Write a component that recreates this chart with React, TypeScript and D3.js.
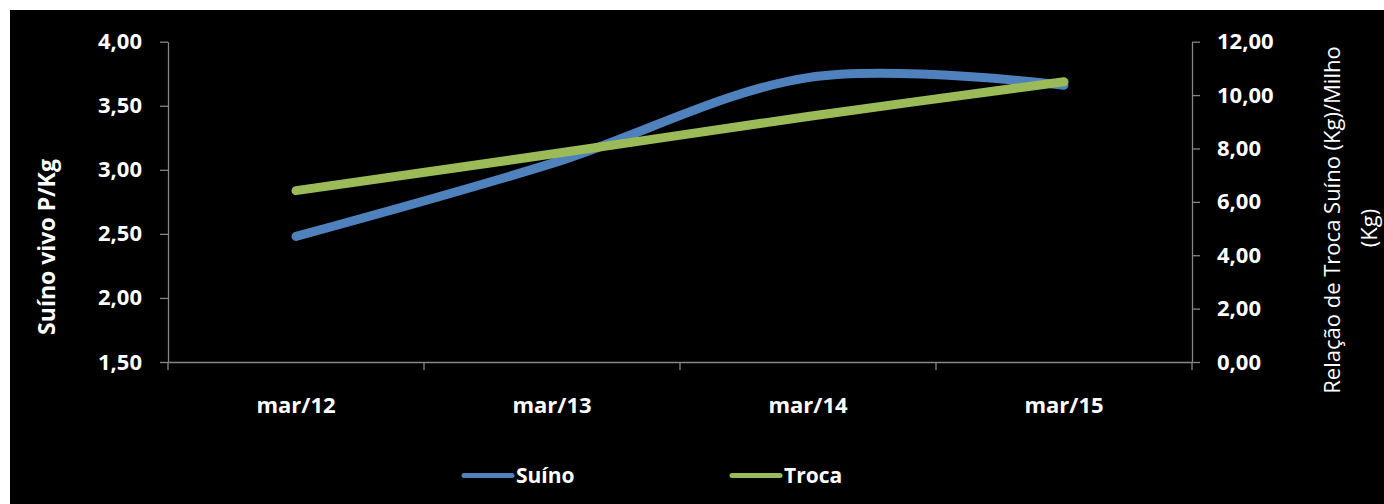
import React, { useEffect, useRef } from 'react';
import * as d3 from 'd3';

const categories = ['mar/12', 'mar/13', 'mar/14', 'mar/15'];
const suinoValues = [2.48, 3.05, 3.72, 3.66];
const trocaValues = [6.42, 7.79, 9.2, 10.5];
const leftTicks = [1.5, 2.0, 2.5, 3.0, 3.5, 4.0];
const rightTicks = [0, 2, 4, 6, 8, 10, 12];

const seriesNames = ['Suíno', 'Troca'];
const seriesColors = ['#4F81BD', '#9BBB59'];

const App: React.FC = () => {
    const chartRef = useRef<SVGSVGElement>(null);

    useEffect(() => {
        if (!chartRef.current) return;
        d3.select(chartRef.current).selectAll('*').remove();

        const width = 1384;
        const height = 504;
        const plot = { left: 168, right: 1192, top: 41.7, bottom: 362 };
        const axisColor = '#868686';
        const font = "'Open Sans', 'Noto Sans', sans-serif";
        const fmt = (v: number) => v.toFixed(2).replace('.', ',');

        const svg = d3.select(chartRef.current)
            .attr('width', width)
            .attr('height', height)
            .attr('viewBox', `0 0 ${width} ${height}`);

        // background: white frame with black chart area
        svg.append('rect').attr('width', width).attr('height', height).attr('fill', '#ffffff');
        svg.append('rect')
            .attr('x', 10).attr('y', 10)
            .attr('width', width - 10).attr('height', height - 10)
            .attr('fill', '#000000');

        // Scales
        const xScale = d3.scaleBand<string>()
            .domain(categories)
            .range([plot.left, plot.right])
            .padding(0);
        const xCenter = (c: string) => (xScale(c) as number) + xScale.bandwidth() / 2;

        const yLeft = d3.scaleLinear().domain([1.5, 4]).range([plot.bottom, plot.top]);
        const yRight = d3.scaleLinear().domain([0, 12]).range([plot.bottom, plot.top]);

        const styleAxis = (g: d3.Selection<SVGGElement, unknown, null, undefined>) => {
            g.select('.domain').attr('stroke', axisColor).attr('stroke-width', 1.3);
            g.selectAll('.tick line').attr('stroke', axisColor).attr('stroke-width', 1.3);
            g.selectAll('.tick text')
                .attr('fill', '#ffffff')
                .attr('font-family', font)
                .attr('font-size', '22px')
                .attr('font-weight', 'bold');
        };

        // Left axis
        const gLeft = svg.append('g')
            .attr('transform', `translate(${plot.left},0)`)
            .call(d3.axisLeft(yLeft).tickValues(leftTicks).tickSize(8).tickSizeOuter(0).tickPadding(18).tickFormat(d => fmt(d as number)));
        styleAxis(gLeft);

        // Right axis
        const gRight = svg.append('g')
            .attr('transform', `translate(${plot.right},0)`)
            .call(d3.axisRight(yRight).tickValues(rightTicks).tickSize(8).tickSizeOuter(0).tickPadding(17).tickFormat(d => fmt(d as number)));
        styleAxis(gRight);

        // Bottom axis: labels at band centres, ticks at band boundaries
        const gBottom = svg.append('g')
            .attr('transform', `translate(0,${plot.bottom})`)
            .call(d3.axisBottom(xScale).tickSize(0).tickSizeOuter(0).tickPadding(35));
        styleAxis(gBottom);
        const boundaries = [...categories.map(c => xScale(c) as number), plot.right];
        gBottom.selectAll('.bound')
            .data(boundaries)
            .enter()
            .append('line')
            .attr('class', 'bound')
            .attr('x1', d => d).attr('x2', d => d)
            .attr('y1', 0).attr('y2', 8)
            .attr('stroke', axisColor)
            .attr('stroke-width', 1.3);

        // Lines
        const curve = d3.curveCardinal.tension(0);
        const suinoLine = d3.line<number>()
            .x((_, i) => xCenter(categories[i]))
            .y(d => yLeft(d))
            .curve(curve);
        const trocaLine = d3.line<number>()
            .x((_, i) => xCenter(categories[i]))
            .y(d => yRight(d))
            .curve(curve);

        svg.append('path')
            .attr('d', suinoLine(suinoValues) as string)
            .attr('fill', 'none')
            .attr('stroke', seriesColors[0])
            .attr('stroke-width', 9)
            .attr('stroke-linecap', 'round')
            .attr('stroke-linejoin', 'round');

        svg.append('path')
            .attr('d', trocaLine(trocaValues) as string)
            .attr('fill', 'none')
            .attr('stroke', seriesColors[1])
            .attr('stroke-width', 9)
            .attr('stroke-linecap', 'round')
            .attr('stroke-linejoin', 'round');

        // Axis titles
        svg.append('text')
            .attr('transform', `translate(46, 247) rotate(-90)`)
            .attr('text-anchor', 'middle')
            .attr('dominant-baseline', 'central')
            .attr('fill', '#ffffff')
            .attr('font-family', font)
            .attr('font-size', '23px')
            .attr('font-weight', 'bold')
            .text('Suíno vivo P/Kg');

        const rightTitle = ['Relação de Troca Suíno (Kg)/Milho', '(Kg)'];
        const rightTitleX = [1331, 1368];
        const rightTitleY = [220, 228];
        rightTitle.forEach((t, i) => {
            svg.append('text')
                .attr('transform', `translate(${rightTitleX[i]}, ${rightTitleY[i]}) rotate(-90)`)
                .attr('text-anchor', 'middle')
                .attr('dominant-baseline', 'central')
                .attr('fill', '#ffffff')
                .attr('font-family', font)
                .attr('font-size', '22px')
                .text(t);
        });

        // Legend
        const legendX = [464, 732];
        const legendY = 475.5;
        seriesNames.forEach((name, i) => {
            svg.append('line')
                .attr('x1', legendX[i]).attr('x2', legendX[i] + 48)
                .attr('y1', legendY).attr('y2', legendY)
                .attr('stroke', seriesColors[i])
                .attr('stroke-width', 5)
                .attr('stroke-linecap', 'round');
            svg.append('text')
                .attr('x', legendX[i] + 52)
                .attr('y', legendY + 7.5)
                .attr('fill', '#ffffff')
                .attr('font-family', font)
                .attr('font-size', '21px')
                .attr('font-weight', 'bold')
                .text(name);
        });
    }, []);

    return (
        <div style={{ position: 'absolute', left: 0, top: 0 }}>
            <svg ref={chartRef} style={{ display: 'block' }}></svg>
        </div>
    );
};

export default App;
